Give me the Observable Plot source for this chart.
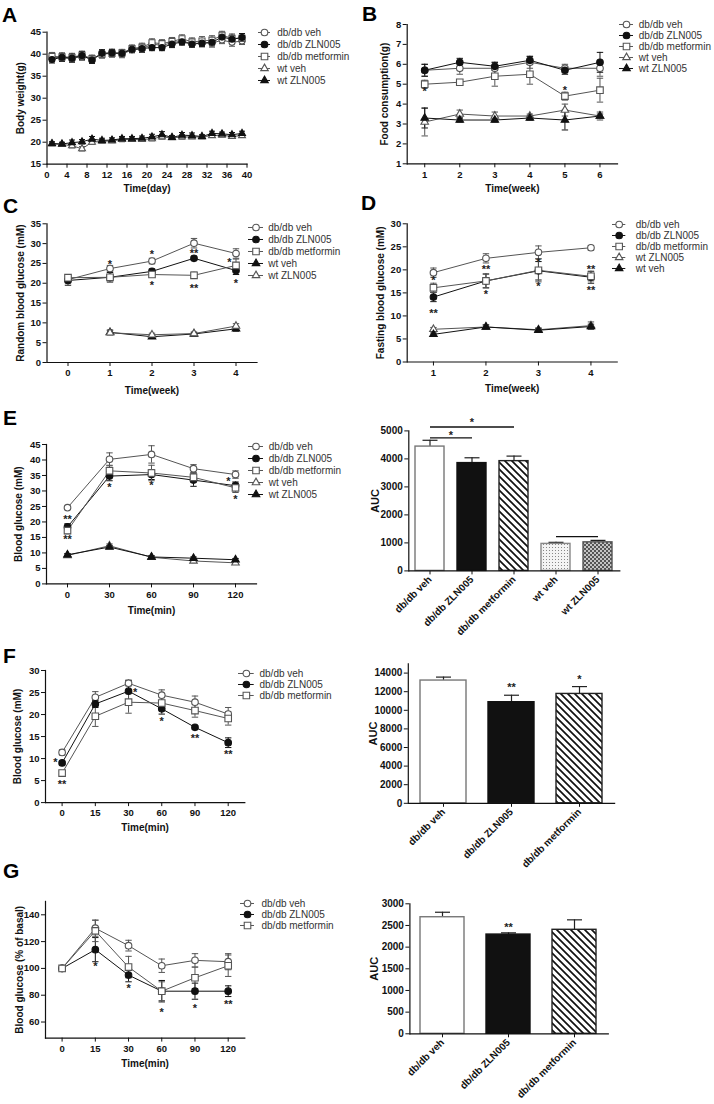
<!DOCTYPE html>
<html><head><meta charset="utf-8">
<script src="https://cdn.jsdelivr.net/npm/d3@7"></script>
<script src="https://cdn.jsdelivr.net/npm/@observablehq/plot@0.6"></script>
<style>
html,body{margin:0;padding:0;background:#fff;}
#root{position:relative;width:714px;height:1104px;overflow:hidden;font-family:"Liberation Sans",Arial,Helvetica,sans-serif;}
.letter{position:absolute;font-weight:bold;font-size:21px;line-height:21px;color:#000;}
</style></head><body>
<svg width="0" height="0" style="position:absolute;left:0;top:0"><defs>
<pattern id="hatch" patternUnits="userSpaceOnUse" width="7" height="7"><rect width="7" height="7" fill="#fff"/><path d="M-1,-1 L8,8 M-8,-1 L1,8 M6,-1 L15,8" stroke="#111" stroke-width="1.7"/></pattern>
<pattern id="dots" patternUnits="userSpaceOnUse" width="3" height="3"><rect width="3" height="3" fill="#f4f4f4"/><rect width="1" height="1" fill="#888"/></pattern>
<pattern id="checker" patternUnits="userSpaceOnUse" width="4" height="4"><rect width="4" height="4" fill="#c4c4c4"/><rect width="2" height="2" fill="#555"/><rect x="2" y="2" width="2" height="2" fill="#555"/></pattern>
</defs></svg>
<div id="root"></div>
<script>
// ---------------- DATA ----------------
// Panel A: body weight (g)
const A_days = [1,3,5,7,9,11,13,15,17,19,21,23,25,27,29,31,33,35,37,39];
const A_dbVeh = [39.3,39.2,39.0,39.5,38.9,40.1,40.3,40.0,41.0,41.2,42.3,42.0,42.6,43.0,42.4,42.6,42.5,43.2,42.7,43.0];
const A_dbVehErr = [0.9,0.8,0.8,0.9,0.8,0.9,0.8,0.8,0.7,0.8,0.9,0.8,0.9,0.9,0.8,0.9,0.9,0.8,0.9,0.8];
const A_dbZln = [38.8,39.3,39.1,39.7,38.7,40.2,40.3,40.2,41.1,41.3,41.5,41.5,42.3,42.8,42.3,42.5,42.7,43.9,43.4,43.8];
const A_dbZlnErr = [0.8,0.9,0.9,0.9,0.8,0.8,0.8,0.7,0.7,0.8,0.7,0.7,0.8,0.7,0.7,0.8,0.8,0.8,0.9,0.9];
const A_dbMet = [39.5,39.4,39.3,39.8,39.0,40.0,40.2,40.3,41.3,41.6,42.6,42.4,42.9,43.5,42.8,43.0,43.2,44.3,43.6,43.6];
const A_dbMetErr = [0.9,0.9,0.9,0.9,0.8,0.9,0.9,0.8,0.8,0.9,0.9,0.9,0.9,0.9,0.9,1.0,1.0,0.9,1.0,1.0];
const A_wtVeh = [19.6,19.5,19.2,18.5,20.0,20.2,20.3,20.6,20.6,20.6,20.8,21.2,21.0,21.2,21.2,21.2,21.5,21.6,21.3,21.5];
const A_wtVehErr = [0.4,0.4,0.5,0.5,0.5,0.4,0.4,0.5,0.4,0.4,0.5,0.5,0.4,0.5,0.4,0.4,0.4,0.4,0.4,0.4];
const A_wtZln = [19.7,19.6,19.9,20.1,20.7,20.4,20.5,20.8,20.8,20.9,21.2,21.7,21.1,21.6,21.5,21.3,22.0,21.9,21.7,22.0];
const A_wtZlnErr = [0.4,0.4,0.6,0.5,0.6,0.5,0.5,0.5,0.5,0.5,0.6,0.7,0.4,0.6,0.6,0.4,0.5,0.4,0.5,0.5];
const A_xTicks = [0,4,8,12,16,20,24,28,32,36,40];
const A_yTicks = [15,20,25,30,35,40,45];

// Panel B: food consumption (g)
const B_weeks = [1,2,3,4,5,6];
const B_dbVeh = [5.7,5.8,5.8,6.1,5.8,5.8];  const B_dbVehErr = [0.3,0.3,0.3,0.3,0.2,0.4];
const B_dbZln = [5.7,6.1,5.9,6.2,5.7,6.1];  const B_dbZlnErr = [0.3,0.2,0.2,0.2,0.2,0.5];
const B_dbMet = [5.0,5.1,5.4,5.5,4.4,4.7];  const B_dbMetErr = [0.2,0.1,0.5,0.5,0.2,0.6];
const B_wtVeh = [3.1,3.5,3.4,3.4,3.7,3.4];  const B_wtVehErr = [0.7,0.2,0.2,0.1,0.3,0.2];
const B_wtZln = [3.3,3.2,3.2,3.3,3.2,3.4];  const B_wtZlnErr = [0.5,0.1,0.1,0.1,0.5,0.1];
const B_stars = [{x:1,y:4.76,t:"*"},{x:5,y:4.81,t:"*"}];
const B_yTicks = [1,2,3,4,5,6,7,8];

// Panel C: random blood glucose (mM)
const C_weeks = [0,1,2,3,4];
const C_dbVeh = [20.9,23.7,25.6,30.1,27.5];  const C_dbVehErr = [0.8,0.8,0.7,1.2,1.2];
const C_dbZln = [20.7,21.5,23.0,26.3,23.2];  const C_dbZlnErr = [1.2,1.2,0.6,0.5,1.0];
const C_dbMet = [21.4,21.5,22.2,22.0,24.5];  const C_dbMetErr = [0.8,0.6,0.6,0.8,1.6];
const C_wtWeeks = [1,2,3,4];
const C_wtVeh = [7.6,6.5,7.2,8.5];  const C_wtVehErr = [0.6,0.4,0.4,0.6];
const C_wtZln = [7.5,7.0,7.3,9.2];  const C_wtZlnErr = [0.5,0.4,0.4,0.6];
const C_stars = [{x:1,y:25.3,t:"*"},{x:2,y:27.8,t:"*"},{x:2,y:20.0,t:"*"},{x:3,y:28.1,t:"**"},{x:3,y:19.2,t:"**"},{x:3.84,y:25.9,t:"*"},{x:4,y:20.5,t:"*"}];

// Panel D: fasting blood glucose (mM)
const D_weeks = [1,2,3,4];
const D_dbVeh = [19.4,22.5,23.8,24.8];  const D_dbVehErr = [1.0,1.0,1.4,0.5];
const D_dbZln = [14.1,17.6,19.8,18.4];  const D_dbZlnErr = [1.0,1.5,2.0,1.3];
const D_dbMet = [16.1,17.6,19.9,18.6];  const D_dbMetErr = [1.0,1.5,2.5,1.0];
const D_wtZln = [7.1,7.6,7.0,7.9];  const D_wtZlnErr = [0.4,0.5,0.4,0.8];
const D_wtVeh = [6.0,7.6,6.9,7.7];  const D_wtVehErr = [0.3,0.4,0.4,0.5];
const D_stars = [{x:1,y:18.2,t:"*"},{x:1,y:11.0,t:"**"},{x:2,y:20.6,t:"**"},{x:2,y:15.3,t:"*"},{x:3,y:22.2,t:"*"},{x:3,y:17.0,t:"*"},{x:4,y:20.7,t:"**"},{x:4,y:16.1,t:"**"}];

// Panel E: OGTT blood glucose (mM)
const E_min = [0,30,60,90,120];
const E_dbVeh = [24.6,40.2,41.8,37.2,35.3];  const E_dbVehErr = [0.5,2.1,2.8,1.3,1.2];
const E_dbZln = [18.4,34.8,35.3,33.5,31.7];  const E_dbZlnErr = [1.0,1.5,1.6,2.0,1.2];
const E_dbMet = [17.2,36.5,35.8,34.4,31.0];  const E_dbMetErr = [1.0,1.8,2.5,1.5,1.5];
const E_wtVeh = [9.2,12.3,8.6,7.4,6.8];  const E_wtVehErr = [0.4,0.6,0.4,0.4,0.4];
const E_wtZln = [9.4,11.9,8.7,8.3,7.8];  const E_wtZlnErr = [0.4,0.5,0.4,0.4,0.4];
const E_stars = [{x:0,y:21.5,t:"**"},{x:0,y:15.0,t:"**"},{x:30,y:31.8,t:"*"},{x:60,y:32.5,t:"*"},{x:115,y:34.0,t:"*"},{x:120,y:28.0,t:"*"}];
// Panel E: AUC
const E_groups = ["db/db veh","db/db ZLN005","db/db metformin","wt veh","wt ZLN005"];
const E_auc = [4440,3850,3920,965,1020];
const E_aucErr = [225,190,180,55,70];
const E_brackets = [{from:"db/db veh",to:"db/db metformin",y:5140},{from:"db/db veh",to:"db/db ZLN005",y:4750},{from:"wt veh",to:"wt ZLN005",y:1225}];
const E_aucStars = [{x:"db/db ZLN005",y:5390,t:"*"},{x:"db/db veh",y:4925,t:"*",dx:21}];

// Panel F: blood glucose (mM)
const F_ticks = ["0","15","30","60","90","120"];
const F_idx = [0,1,2,3,4,5];
const F_dbVeh = [11.4,23.9,27.1,24.4,22.8,20.1];  const F_dbVehErr = [0.6,1.3,0.6,1.2,1.4,1.5];
const F_dbZln = [9.0,22.4,25.3,21.3,17.1,13.6];   const F_dbZlnErr = [0.4,0.8,2.5,1.2,0.4,1.1];
const F_dbMet = [6.7,19.6,22.8,22.6,20.9,19.1];   const F_dbMetErr = [0.4,2.3,2.5,1.5,1.5,1.5];
const F_stars = [{x:-0.2,y:9.7,t:"*"},{x:0,y:4.6,t:"**"},{x:2.2,y:25.6,t:"*"},{x:3,y:18.9,t:"*"},{x:4,y:15.2,t:"**"},{x:5,y:11.4,t:"**"}];
const F_groups = ["db/db veh","db/db ZLN005","db/db metformin"];
const F_auc = [13200,10870,11760];
const F_aucErr = [370,750,790];
const F_aucStars = [{x:"db/db ZLN005",y:12700,t:"**"},{x:"db/db metformin",y:13600,t:"*"}];

// Panel G: blood glucose (% of basal)
const G_dbVeh = [100,130,117,102,106,105];  const G_dbVehErr = [0,6,4,5,5,6];
const G_dbZln = [100,114,95,83,83,83];      const G_dbZlnErr = [0,9,5,8,6,4];
const G_dbMet = [100,128,101,83,93,102];    const G_dbMetErr = [0,8,8,7,8,8];
const G_stars = [{x:1,y:103,t:"*"},{x:2,y:87,t:"*"},{x:3,y:69,t:"*"},{x:4,y:72,t:"*"},{x:5,y:75,t:"**"}];
const G_yTicks = [60,80,100,120,140];
const G_groups = ["db/db veh","db/db ZLN005","db/db metformin"];
const G_auc = [2690,2290,2400];
const G_aucErr = [115,40,230];
const G_aucStars = [{x:"db/db ZLN005",y:2520,t:"**"}];

// ---------------- DRAWING ----------------
const FONT = '"Liberation Sans", Arial, Helvetica, sans-serif';
const OPEN = "#555", FILLED = "#111";
const RS = {circle: 3.3, square: 3.7, triangle: 2.8};
const capSym = {draw(ctx, size){ const w = Math.sqrt(size / Math.PI); ctx.moveTo(-w, 0); ctx.lineTo(w, 0); }};
const root = document.getElementById("root");
const BASE = {fontFamily: FONT, fontSize: "9.5px", fontWeight: "bold", color: "#111", background: "none", overflow: "visible", maxWidth: "none"};
const plain = d => String(d);

function place(el, left, top){ el.style.position = "absolute"; el.style.left = left + "px"; el.style.top = top + "px"; root.appendChild(el); }
function letter(t, left, baseline){ const d = document.createElement("div"); d.className = "letter"; d.textContent = t; d.style.left = left + "px"; d.style.top = (baseline - 17.8) + "px"; root.appendChild(d); }

function S(name, x, y, err, symbol, open){ return {name, x, y, err, symbol, open}; }

function lineChart(o){
  const sc = o.scale || 1;
  const rowsOf = s => s.x.map((xv, i) => ({x: xv, y: s.y[i], lo: s.y[i] - s.err[i], hi: s.y[i] + s.err[i]}));
  const marks = [];
  for (const s of o.series){
    const d = rowsOf(s), col = s.open ? OPEN : FILLED;
    marks.push(Plot.ruleX(d, {x: "x", y1: "lo", y2: "hi", stroke: col, strokeWidth: 1}));
    marks.push(Plot.dot(d, {x: "x", y: "hi", symbol: capSym, r: o.capR || 3.2, fill: "none", stroke: col, strokeWidth: 1}));
    marks.push(Plot.dot(d, {x: "x", y: "lo", symbol: capSym, r: o.capR || 3.2, fill: "none", stroke: col, strokeWidth: 1}));
  }
  for (const s of o.series) marks.push(Plot.line(rowsOf(s), {x: "x", y: "y", stroke: s.open ? OPEN : FILLED, strokeWidth: 1}));
  for (const s of o.series) marks.push(Plot.dot(rowsOf(s), {x: "x", y: "y", symbol: s.symbol, r: RS[s.symbol] * sc, fill: s.open ? "white" : FILLED, stroke: s.open ? OPEN : FILLED, strokeWidth: 1.1}));
  for (const st of (o.stars || [])) marks.push(Plot.text([st], {x: "x", y: "y", text: "t", dx: st.dx || 0, dy: 2.5, fontSize: 11, fill: "#222"}));
  marks.push(Plot.frame({anchor: "left", stroke: "#111", strokeWidth: 1.2}));
  marks.push(Plot.frame({anchor: "bottom", stroke: "#111", strokeWidth: 1.2}));
  marks.push(Plot.text([o.yLabel], {frameAnchor: "left", dx: o.ylDx, rotate: -90, text: d => d, textAnchor: "middle", lineAnchor: "middle", fontSize: 10}));
  marks.push(Plot.text([o.xLabel], {frameAnchor: "bottom", dy: o.xlDy, text: d => d, textAnchor: "middle", lineAnchor: "middle", fontSize: 10}));
  const p = Plot.plot({
    width: o.w, height: o.h, marginLeft: o.ml, marginRight: o.mr, marginTop: o.mt, marginBottom: o.mb, style: BASE,
    x: {domain: o.xDomain, ticks: o.xTicks, tickFormat: o.xFormat || plain, tickSize: 4, tickPadding: 3, label: null},
    y: {domain: o.yDomain, ticks: o.yTicks, tickFormat: plain, tickSize: 4, tickPadding: 2, label: null},
    marks
  });
  place(p, o.left, o.top);
}

function aucChart(o){
  const rows = o.groups.map((g, i) => ({g, v: o.values[i], top: o.values[i] + o.errs[i]}));
  const marks = [];
  marks.push(Plot.ruleX(rows, {x: "g", y1: "v", y2: "top", stroke: "#222", strokeWidth: 1.2}));
  marks.push(Plot.dot(rows, {x: "g", y: "top", symbol: capSym, r: o.capR, fill: "none", stroke: "#222", strokeWidth: 1.2}));
  rows.forEach((r, i) => marks.push(Plot.barY([r], {x: "g", y: "v", fill: o.fills[i], stroke: o.strokes[i], strokeWidth: 1.4})));
  if (o.brackets) marks.push(Plot.link(o.brackets, {x1: "from", x2: "to", y1: "y", y2: "y", stroke: "#111", strokeWidth: 1.3}));
  for (const st of (o.stars || [])) marks.push(Plot.text([st], {x: "x", y: "y", text: "t", dx: st.dx || 0, dy: 2.5, fontSize: 11, fill: "#222"}));
  marks.push(Plot.frame({anchor: "left", stroke: "#111", strokeWidth: 1.2}));
  marks.push(Plot.frame({anchor: "bottom", stroke: "#111", strokeWidth: 1.2}));
  marks.push(Plot.text(["AUC"], {frameAnchor: "left", dx: o.ylDx, rotate: -90, text: d => d, textAnchor: "middle", lineAnchor: "middle", fontSize: 11}));
  const p = Plot.plot({
    width: o.w, height: o.h, marginLeft: o.ml, marginRight: o.mr, marginTop: o.mt, marginBottom: o.mb,
    style: {...BASE, fontSize: "10px"},
    x: {type: "band", domain: o.groups, paddingInner: o.pi, paddingOuter: o.po, tickSize: 4, tickPadding: 3, tickRotate: -45, label: null},
    y: {domain: o.yDomain, ticks: o.yTicks, tickFormat: plain, tickSize: 4, tickPadding: 2, label: null},
    marks
  });
  place(p, o.left, o.top);
}

function legend(items, o){
  const names = items.map(d => d.name);
  const W = 125, H = o.step * (items.length - 1) + 12;
  const marks = [];
  items.forEach(it => {
    const col = it.open ? OPEN : FILLED;
    marks.push(Plot.ruleY([it], {y: "name", x1: 0, x2: o.lineW, stroke: col, strokeWidth: 1}));
    marks.push(Plot.dot([it], {x: o.lineW / 2, y: "name", symbol: it.symbol, r: RS[it.symbol], fill: it.open ? "white" : FILLED, stroke: col, strokeWidth: 1.1}));
  });
  marks.push(Plot.text(items, {x: o.textX, y: "name", text: "name", textAnchor: "start", fontSize: 10, fill: "#333"}));
  const p = Plot.plot({
    width: W, height: H, margin: 0, style: {...BASE, fontWeight: "normal", fontSize: "10px"},
    x: {domain: [0, W], range: [0, W], axis: null},
    y: {type: "point", domain: names, range: [6, H - 6], padding: 0, axis: null},
    marks
  });
  place(p, o.left, o.y0 - 6);
}

const L = (name, symbol, open) => ({name, symbol, open});
const legStd = [L("db/db veh","circle",true), L("db/db ZLN005","circle",false), L("db/db metformin","square",true)];

// ----- A -----
letter("A", 2, 22);
lineChart({left: 0, top: 0, w: 250, h: 200, ml: 46.5, mr: 3.5, mt: 31.7, mb: 36.3, scale: 0.92, capR: 3,
  xDomain: [0, 40], xTicks: A_xTicks, yDomain: [15, 45], yTicks: A_yTicks,
  series: [S("db/db veh", A_days, A_dbVeh, A_dbVehErr, "circle", true), S("db/db metformin", A_days, A_dbMet, A_dbMetErr, "square", true),
           S("db/db ZLN005", A_days, A_dbZln, A_dbZlnErr, "circle", false),
           S("wt veh", A_days, A_wtVeh, A_wtVehErr, "triangle", true), S("wt ZLN005", A_days, A_wtZln, A_wtZlnErr, "triangle", false)],
  yLabel: "Body weight(g)", ylDx: -26.5, xLabel: "Time(day)", xlDy: 24.3});
legend([...legStd, L("wt veh","triangle",true), L("wt ZLN005","triangle",false)], {left: 258, y0: 31.7, step: 12.1, lineW: 12, textX: 18.7});

// ----- B -----
letter("B", 362, 20.5);
lineChart({left: 360, top: 0, w: 260, h: 200, ml: 46.7, mr: 3, mt: 24, mb: 36.7,
  xDomain: [0.5, 6.5], xTicks: B_weeks, yDomain: [1, 8], yTicks: B_yTicks,
  series: [S("db/db veh", B_weeks, B_dbVeh, B_dbVehErr, "circle", true), S("db/db ZLN005", B_weeks, B_dbZln, B_dbZlnErr, "circle", false),
           S("db/db metformin", B_weeks, B_dbMet, B_dbMetErr, "square", true),
           S("wt veh", B_weeks, B_wtVeh, B_wtVehErr, "triangle", true), S("wt ZLN005", B_weeks, B_wtZln, B_wtZlnErr, "triangle", false)],
  stars: B_stars, yLabel: "Food consumption(g)", ylDx: -22, xLabel: "Time(week)", xlDy: 25});
legend([...legStd, L("wt veh","triangle",true), L("wt ZLN005","triangle",false)], {left: 619, y0: 24, step: 11.1, lineW: 14, textX: 19.3});

// ----- C -----
letter("C", 3, 213);
lineChart({left: 0, top: 200, w: 260, h: 200, ml: 46.5, mr: 3.5, mt: 23.3, mb: 38,
  xDomain: [-0.5, 4.5], xTicks: C_weeks, yDomain: [0, 35], yTicks: [0,5,10,15,20,25,30,35],
  series: [S("db/db veh", C_weeks, C_dbVeh, C_dbVehErr, "circle", true), S("db/db ZLN005", C_weeks, C_dbZln, C_dbZlnErr, "circle", false),
           S("db/db metformin", C_weeks, C_dbMet, C_dbMetErr, "square", true),
           S("wt veh", C_wtWeeks, C_wtVeh, C_wtVehErr, "triangle", false), S("wt ZLN005", C_wtWeeks, C_wtZln, C_wtZlnErr, "triangle", true)],
  stars: C_stars, yLabel: "Random blood glucose (mM)", ylDx: -26.5, xLabel: "Time(week)", xlDy: 28});
legend([...legStd, L("wt veh","triangle",false), L("wt ZLN005","triangle",true)], {left: 248, y0: 225, step: 12.9, lineW: 15, textX: 19.7});

// ----- D -----
letter("D", 361, 210);
lineChart({left: 360, top: 200, w: 260, h: 200, ml: 46.7, mr: 3.3, mt: 23.3, mb: 38.5,
  xDomain: [0.5, 4.5], xTicks: D_weeks, yDomain: [0, 30], yTicks: [0,5,10,15,20,25,30],
  series: [S("db/db veh", D_weeks, D_dbVeh, D_dbVehErr, "circle", true), S("db/db ZLN005", D_weeks, D_dbZln, D_dbZlnErr, "circle", false),
           S("db/db metformin", D_weeks, D_dbMet, D_dbMetErr, "square", true),
           S("wt ZLN005", D_weeks, D_wtZln, D_wtZlnErr, "triangle", true), S("wt veh", D_weeks, D_wtVeh, D_wtVehErr, "triangle", false)],
  stars: D_stars, yLabel: "Fasting blood glucose (mM)", ylDx: -26, xLabel: "Time(week)", xlDy: 27});
legend([...legStd, L("wt ZLN005","triangle",true), L("wt veh","triangle",false)], {left: 611.7, y0: 223.3, step: 11.7, lineW: 13.3, textX: 23.3});

// ----- E -----
letter("E", 3, 425);
lineChart({left: 0, top: 420, w: 260, h: 200, ml: 46, mr: 4, mt: 24, mb: 36.6,
  xDomain: [-15, 135], xTicks: E_min, yDomain: [0, 45], yTicks: [0,5,10,15,20,25,30,35,40,45],
  series: [S("db/db veh", E_min, E_dbVeh, E_dbVehErr, "circle", true), S("db/db ZLN005", E_min, E_dbZln, E_dbZlnErr, "circle", false),
           S("db/db metformin", E_min, E_dbMet, E_dbMetErr, "square", true),
           S("wt veh", E_min, E_wtVeh, E_wtVehErr, "triangle", true), S("wt ZLN005", E_min, E_wtZln, E_wtZlnErr, "triangle", false)],
  stars: E_stars, yLabel: "Blood glucose (mM)", ylDx: -27.5, xLabel: "Time(min)", xlDy: 26.6});
legend([...legStd, L("wt veh","triangle",true), L("wt ZLN005","triangle",false)], {left: 248, y0: 446, step: 12, lineW: 15, textX: 20.3});

aucChart({left: 360, top: 400, w: 262, h: 260, ml: 48.3, mr: 2.7, mt: 30.4, mb: 89.6,
  groups: E_groups, values: E_auc, errs: E_aucErr, pi: 0.31, po: 0.158, capR: 7.5,
  fills: ["white", "#111", "url(#hatch)", "url(#dots)", "url(#checker)"], strokes: ["#777", "#111", "#222", "#888", "#555"],
  yDomain: [0, 5000], yTicks: [0,1000,2000,3000,4000,5000], brackets: E_brackets, stars: E_aucStars, ylDx: -33});

// ----- F -----
letter("F", 3, 663);
lineChart({left: 0, top: 640, w: 250, h: 200, ml: 45, mr: 5.7, mt: 30, mb: 37.9,
  xDomain: [-0.5, 5.5], xTicks: F_idx, xFormat: i => F_ticks[i], yDomain: [0, 30], yTicks: [0,5,10,15,20,25,30],
  series: [S("db/db veh", F_idx, F_dbVeh, F_dbVehErr, "circle", true), S("db/db ZLN005", F_idx, F_dbZln, F_dbZlnErr, "circle", false),
           S("db/db metformin", F_idx, F_dbMet, F_dbMetErr, "square", true)],
  stars: F_stars, yLabel: "Blood glucose (mM)", ylDx: -28, xLabel: "Time(min)", xlDy: 25.6});
legend(legStd, {left: 238.3, y0: 673.3, step: 11.2, lineW: 15.7, textX: 21});

aucChart({left: 360, top: 640, w: 260, h: 250, ml: 47.8, mr: 5.9, mt: 23.3, mb: 87.2,
  groups: F_groups, values: F_auc, errs: F_aucErr, pi: 0.33, po: 0.165, capR: 7.5,
  fills: ["white", "#111", "url(#hatch)"], strokes: ["#777", "#111", "#222"],
  yDomain: [0, 15000], yTicks: [0,2000,4000,6000,8000,10000,12000,14000], stars: F_aucStars, ylDx: -35});

// ----- G -----
letter("G", 3, 878);
lineChart({left: 0, top: 880, w: 250, h: 200, ml: 45, mr: 5.7, mt: 20.9, mb: 42.4,
  xDomain: [-0.5, 5.5], xTicks: F_idx, xFormat: i => F_ticks[i], yDomain: [48, 150], yTicks: G_yTicks,
  series: [S("db/db veh", F_idx, G_dbVeh, G_dbVehErr, "circle", true), S("db/db ZLN005", F_idx, G_dbZln, G_dbZlnErr, "circle", false),
           S("db/db metformin", F_idx, G_dbMet, G_dbMetErr, "square", true)],
  stars: G_stars, yLabel: "Blood glucose (% of basal)", ylDx: -26, xLabel: "Time(min)", xlDy: 26});
legend(legStd, {left: 240, y0: 903.3, step: 11.2, lineW: 14, textX: 21});

aucChart({left: 360, top: 880, w: 250, h: 224, ml: 49.4, mr: 2.2, mt: 23.3, mb: 70.7,
  groups: G_groups, values: G_auc, errs: G_aucErr, pi: 0.33, po: 0.165, capR: 7.5,
  fills: ["white", "#111", "url(#hatch)"], strokes: ["#777", "#111", "#222"],
  yDomain: [0, 3000], yTicks: [0,500,1000,1500,2000,2500,3000], stars: G_aucStars, ylDx: -35});
</script></body></html>
